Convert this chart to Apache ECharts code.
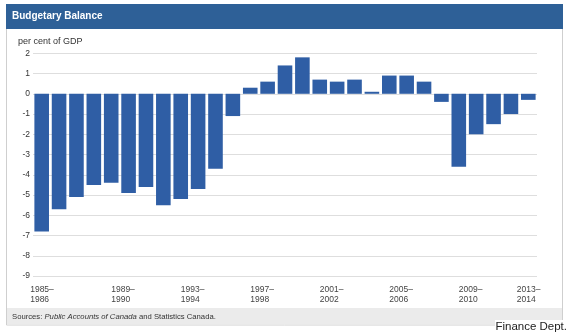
<!DOCTYPE html>
<html>
<head>
<meta charset="utf-8">
<title>Budgetary Balance</title>
<script src="https://cdn.jsdelivr.net/npm/echarts@6/dist/echarts.min.js"></script>
<style>
  html, body { margin: 0; padding: 0; background: #ffffff; }
  #chart { width: 570px; height: 336px; }
</style>
</head>
<body>
<div id="chart"></div>
<script>
// Fiscal years, 1985–1986 through 2013–2014
const startYears = [1985, 1986, 1987, 1988, 1989, 1990, 1991, 1992, 1993, 1994,
  1995, 1996, 1997, 1998, 1999, 2000, 2001, 2002, 2003, 2004,
  2005, 2006, 2007, 2008, 2009, 2010, 2011, 2012, 2013];
const categories = startYears.map(y => y + '–' + (y + 1));

// Budgetary balance, per cent of GDP
const balance = [-6.8, -5.7, -5.1, -4.5, -4.4, -4.9, -4.6, -5.5, -5.2, -4.7,
  -3.7, -1.1, 0.3, 0.6, 1.4, 1.8, 0.7, 0.6, 0.7, 0.1,
  0.9, 0.9, 0.6, -0.4, -3.6, -2.0, -1.5, -1.0, -0.3];

const yTicks = { min: -9, max: 2, step: 1 };

const chart = echarts.init(document.getElementById('chart'), null, { renderer: 'canvas' });

const font = '"Liberation Sans", Arial, sans-serif';

chart.setOption({
  backgroundColor: '#ffffff',
  animation: false,
  grid: { left: 33, right: 33, top: 53.3, bottom: 60, containLabel: false },
  xAxis: {
    type: 'category',
    data: categories,
    axisLine: { show: false },
    axisTick: { show: false },
    axisLabel: {
      interval: 3,
      align: 'left',
      alignMinLabel: 'center',
      alignMaxLabel: 'center',
      margin: 9,
      fontFamily: font,
      fontSize: 8.5,
      lineHeight: 9.5,
      color: '#444',
      // two-line label, both lines flush left inside a fixed-width box
      formatter: v => {
        const parts = v.split('–');
        return '{y|' + parts[0] + '–}\n{y|' + parts[1] + '}';
      },
      rich: {
        y: { width: 23, align: 'left', fontFamily: font, fontSize: 8.5, lineHeight: 9.5, color: '#444' }
      }
    }
  },
  yAxis: {
    type: 'value',
    min: yTicks.min,
    max: yTicks.max,
    interval: yTicks.step,
    axisLine: { show: false },
    axisTick: { show: false },
    axisLabel: { margin: 3, fontFamily: font, fontSize: 8.5, color: '#333' },
    splitLine: { lineStyle: { color: '#dedede', width: 1 } }
  },
  series: [{
    type: 'bar',
    data: balance,
    barCategoryGap: '16%',
    itemStyle: { color: '#2f5ea5' }
  }],
  graphic: [
    // panel frame
    { type: 'rect', z: -10, silent: true,
      shape: { x: 6.5, y: 4.5, width: 556, height: 320.5 },
      style: { fill: 'none', stroke: '#cfcfcf', lineWidth: 1 } },
    // header band
    { type: 'rect', silent: true,
      shape: { x: 6, y: 4, width: 557, height: 25 },
      style: { fill: '#2e6097' } },
    { type: 'text', silent: true, x: 12, y: 16.7,
      style: { text: 'Budgetary Balance', fill: '#ffffff', font: 'bold 10px ' + font, textVerticalAlign: 'middle' } },
    // unit caption
    { type: 'text', silent: true, x: 18, y: 42,
      style: { text: 'per cent of GDP', fill: '#333333', font: '9px ' + font, textVerticalAlign: 'middle' } },
    // footer band with sources
    { type: 'rect', silent: true,
      shape: { x: 7, y: 308, width: 555, height: 16.5 },
      style: { fill: '#ebebeb' } },
    { type: 'text', silent: true, x: 12, y: 316.5,
      style: {
        text: '{n|Sources: }{i|Public Accounts of Canada}{n| and Statistics Canada.}',
        textVerticalAlign: 'middle',
        rich: {
          n: { fontFamily: font, fontSize: 7.7, fill: '#333' },
          i: { fontFamily: font, fontSize: 7.7, fontStyle: 'italic', fill: '#333' }
        }
      } },
    // credit
    { type: 'rect', z: 100, silent: true,
      shape: { x: 495, y: 320, width: 75, height: 16 },
      style: { fill: '#ffffff' } },
    { type: 'text', z: 101, silent: true, x: 567, y: 327,
      style: { text: 'Finance Dept.', fill: '#222222', font: '11.5px ' + font, textAlign: 'right', textVerticalAlign: 'middle' } }
  ]
});
</script>
</body>
</html>
